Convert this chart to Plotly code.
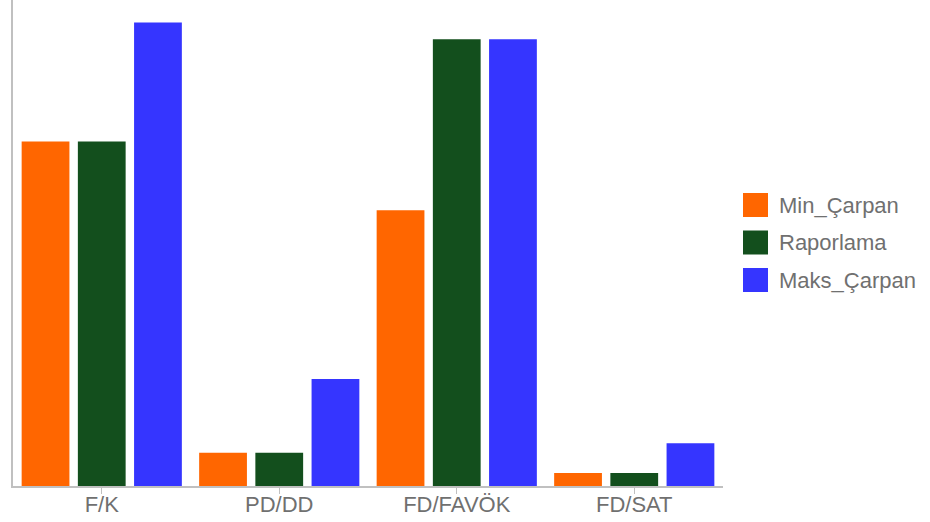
import plotly.graph_objects as go

categories = ["F/K", "PD/DD", "FD/FAVÖK", "FD/SAT"]
series_names = ["Min_Çarpan", "Raporlama", "Maks_Çarpan"]
min_carpan = [14.5, 1.4, 11.6, 0.55]
raporlama = [14.5, 1.4, 18.8, 0.55]
maks_carpan = [19.5, 4.5, 18.8, 1.8]
colors = ["#ff6600", "#134f1d", "#3535ff"]

W, H = 930, 522
ML, MR, MT, MB = 13, 207, 0, 36
FONT = "Liberation Sans, Arial, sans-serif"
TEXT_COLOR = "#707070"

fig = go.Figure()
for name, vals, col in zip(series_names, [min_carpan, raporlama, maks_carpan], colors):
    fig.add_trace(go.Bar(
        x=categories, y=vals, name=name,
        marker=dict(color=col, line=dict(width=0)),
        showlegend=False,
    ))

# hand-drawn legend on the right
plot_w = W - ML - MR
plot_h = H - MT - MB
def px_to_paper_x(px):
    return (px - ML) / plot_w
def px_to_paper_y(py):
    return (H - MB - py) / plot_h

shapes = []
annotations = []
for i, (name, col) in enumerate(zip(series_names, colors)):
    cy = 205 + i * 37.5
    shapes.append(dict(
        type="rect", xref="paper", yref="paper",
        x0=px_to_paper_x(743), x1=px_to_paper_x(768),
        y0=px_to_paper_y(cy + 12), y1=px_to_paper_y(cy - 12),
        fillcolor=col, line=dict(width=0),
    ))
    annotations.append(dict(
        xref="paper", yref="paper",
        x=px_to_paper_x(777), y=px_to_paper_y(cy),
        xanchor="left", yanchor="middle",
        text=name, showarrow=False,
        font=dict(family=FONT, size=22, color=TEXT_COLOR),
    ))

fig.update_layout(
    width=W, height=H,
    margin=dict(l=ML, r=MR, t=MT, b=MB),
    paper_bgcolor="white", plot_bgcolor="white",
    barmode="group", bargap=0.05, bargroupgap=0.15,
    shapes=shapes, annotations=annotations,
    font=dict(family=FONT, size=22, color=TEXT_COLOR),
    xaxis=dict(
        showline=True, linecolor="#c0c0c0", linewidth=2,
        ticks="outside", ticklen=6, tickcolor="#c0c0c0", tickwidth=1,
        ticklabelstandoff=-8,
        showgrid=False, tickfont=dict(size=22, color=TEXT_COLOR),
    ),
    yaxis=dict(
        range=[0, 20.45], showline=True, linecolor="#c0c0c0", linewidth=2,
        showgrid=False, zeroline=False, showticklabels=False, ticks="",
    ),
)

fig.write_html("out.html")
